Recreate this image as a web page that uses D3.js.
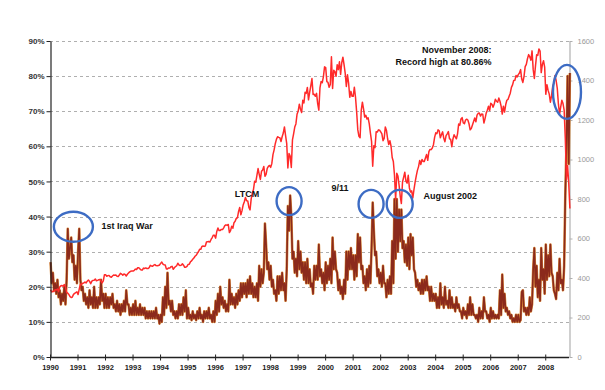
<!DOCTYPE html>
<html><head><meta charset="utf-8">
<script src="https://cdn.jsdelivr.net/npm/d3@7/dist/d3.min.js"></script>
<style>
body{margin:0;background:#fff}
svg{display:block}
text{font-family:Arial,"Liberation Sans",sans-serif}
</style>
</head><body>
<svg id="chart" width="605" height="390"></svg>
<script>
// ---- data ----
const yearLabels = [1990,1991,1992,1993,1994,1995,1996,1997,1998,1999,2000,2001,2002,2003,2004,2005,2006,2007,2008];
const leftTicks = [0,10,20,30,40,50,60,70,80,90];
const rightTicks = [0,200,400,600,800,1000,1200,1400,1600];

// S&P 500, two readings per month (first half, second half), Jan 1990 - Nov 2008
const spx = [
 340,329, 333,332, 341,339, 344,331, 354,361, 362,358, 367,356, 327,323, 316,306, 301,304, 317,322, 326,330, // 1990
 316,344, 369,367, 373,375, 380,375, 384,390, 383,371, 384,388, 389,395, 386,388, 391,392, 385,375, 385,417, // 1991
 416,409, 412,413, 406,404, 410,415, 414,415, 409,408, 415,424, 420,414, 420,418, 410,419, 425,431, 434,436, // 1992
 435,439, 445,443, 452,452, 446,440, 440,450, 448,451, 448,448, 452,464, 461,459, 465,468, 463,462, 463,466, // 1993
 474,481, 470,467, 466,446, 446,451, 450,457, 459,444, 452,458, 462,475, 466,463, 465,472, 465,454, 455,459, // 1994
 469,470, 482,487, 495,501, 510,515, 525,533, 545,545, 560,562, 560,562, 582,584, 585,582, 595,605, 617,616, // 1995
 602,636, 653,640, 641,646, 645,654, 665,669, 667,671, 630,640, 662,652, 680,687, 702,705, 737,757, 720,741, // 1996
 770,786, 808,791, 790,757, 745,801, 830,848, 890,885, 920,954, 925,899, 940,947, 965,915, 925,955, 965,970, // 1997
 960,980, 1025,1049, 1080,1102, 1115,1112, 1110,1091, 1115,1134, 1165,1121, 1080,957, 1030,1017, 960,1099, 1130,1164, 1180,1229, // 1998
 1245,1280, 1255,1238, 1300,1286, 1340,1335, 1365,1302, 1340,1373, 1410,1329, 1330,1320, 1335,1283, 1250,1363, 1395,1389, 1420,1469, // 1999
 1465,1394, 1390,1366, 1380,1520, 1360,1452, 1445,1421, 1480,1455, 1495,1431, 1490,1518, 1480,1437, 1370,1429, 1385,1315, 1345,1320, // 2000
 1320,1366, 1315,1240, 1150,1117, 1110,1249, 1290,1256, 1215,1224, 1205,1211, 1180,1134, 1092,966, 1070,1060, 1140,1139, 1150,1148, // 2001
 1140,1130, 1095,1107, 1165,1147, 1105,1076, 1095,1067, 1010,990, 920,797, 930,916, 870,815, 777,886, 910,936, 890,880, // 2002
 920,856, 835,841, 805,848, 885,917, 945,964, 995,975, 1000,990, 990,1008, 1025,996, 1040,1051, 1050,1058, 1075,1112, // 2003
 1135,1131, 1150,1145, 1110,1126, 1140,1107, 1090,1121, 1130,1141, 1105,1102, 1065,1104, 1125,1115, 1105,1130, 1180,1174, 1205,1212, // 2004
 1185,1181, 1200,1204, 1200,1181, 1150,1157, 1175,1192, 1210,1191, 1225,1234, 1235,1220, 1230,1229, 1185,1207, 1235,1249, 1270,1248, // 2005
 1285,1280, 1265,1281, 1305,1295, 1290,1311, 1295,1270, 1230,1270, 1240,1277, 1300,1304, 1320,1336, 1365,1378, 1400,1401, 1425,1418, // 2006
 1430,1438, 1455,1407, 1390,1421, 1470,1482, 1510,1531, 1520,1503, 1550,1455, 1410,1474, 1530,1527, 1560,1549, 1440,1481, 1500,1468, // 2007
 1330,1379, 1350,1331, 1290,1323, 1370,1386, 1425,1400, 1360,1280, 1230,1267, 1300,1283, 1250,1106, 899,969, 880,752 // 2008
];

// VIX (%), two readings per month, Jan 1990 - Nov 2008
const vix = [
 27,21, 24,19, 21,18, 22,17, 19,15, 18,16, 20,15, 22,36.5, 28,31, 34,27, 29,22, 26,21, // 1990
 30,36.5, 22,19, 20,16, 18,15, 17,14, 19,15, 17,14, 20,14, 17,14, 17,15, 22,16, 18,14, // 1991
 18,14, 17,14, 17,15, 18,14, 15,13, 16,13, 15,12, 15,13, 16,13, 19,15, 15,12, 14,12, // 1992
 15,12, 16,12, 14,12, 15,12, 14,12, 14,11, 13,11, 13,11, 13,11, 13,11, 14,11, 12,9.5, // 1993
 12,10, 17,12, 20,14, 24,15, 16,13, 16,12, 13,11, 13,11, 15,12, 15,12, 17,13, 19,11, // 1994
 14,11, 12,10.5, 13,11, 12,10.5, 13,11, 14,11, 12,10, 13,11, 13,11, 14,11, 12,10, 13,10, // 1995
 16,12, 18,13, 20,15, 17,14, 16,13, 15,13, 22,15, 18,15, 17,14, 18,15, 19,16, 21,17, // 1996
 21,18, 21,17, 22,18, 23,18, 21,17, 20,17, 21,16, 26,20, 25,21, 24,38, 32,25, 27,22, // 1997
 26,20, 22,18, 19,16, 23,18, 23,19, 24,19, 21,16, 25,43, 36,46, 40,28, 30,24, 28,23, // 1998
 33,25, 30,24, 27,22, 27,21, 28,21, 25,20, 21,18, 26,22, 26,22, 32,23, 25,21, 24,19, // 1999
 27,21, 26,22, 28,21, 34,25, 30,25, 24,19, 22,18, 20,16.5, 22,18, 30,22, 30,25, 31,25, // 2000
 29,22, 29,23, 35,27, 34,25, 26,21, 23,19, 25,20, 26,21, 31,44, 36,29, 30,23, 25,21, // 2001
 24,20, 26,21, 21,17, 22,18, 23,18, 33,21, 45,28, 45,30, 42,33, 42,31, 33,27, 32,26, // 2002
 34,25, 35,29, 34,25, 24,20, 22,19, 21,18, 22,18, 22,19, 23,19, 20,16, 20,16, 18,16, // 2003
 18,14, 17,14, 21,15, 17,14, 20,15, 16,14, 19,14, 17,14, 15,13, 17,14, 15,13, 13,11, // 2004
 14,12, 13,11, 15,12, 17,12, 15,12, 12,11, 12,10, 14,11, 13,11, 17,13, 13,11, 12,10, // 2005
 14,11, 13,11, 12,11, 12,11, 19,12, 23.5,14, 18,13, 14,12, 13,11, 12,10, 11,10, 12,10, // 2006
 12,10, 10.5,18.5, 19,13, 14,12, 14,12, 17,13, 15,25, 31,20, 26,17, 22,16, 31,22, 25,18, // 2007
 32,22, 29,23, 32,24, 23,19, 18,16.5, 24,19, 28,21, 22,19, 26,46, 60,80, 55,80.86 // 2008
];

// annotation texts and the events they mark (date, VIX level)
const eventLabels = ["1st Iraq War", "LTCM", "9/11", "August 2002"];
const eventDates  = [1990.85, 1998.69, 2001.67, 2002.71, 2008.79];
const eventLevels = [37.1, 44.4, 43.6, 43.6, 75.5];
const recordNote  = ["November 2008:", "Record high at 80.86%"];

// ---- drawing ----
const svg = d3.select("#chart");
const x  = d3.scaleLinear().domain([1990, 2008.9]).range([50, 570]);
const yL = d3.scaleLinear().domain([0, 90]).range([357, 41]);
const yR = d3.scaleLinear().domain([0, 1600]).range([357, 41]);
const tOf = i => 1990 + (i + 0.5) / 24;

// gridlines
svg.append("g").selectAll("line").data(leftTicks.filter(d => d > 0)).join("line")
  .attr("x1", 50).attr("x2", 569).attr("y1", d => Math.round(yL(d)) + 0.5).attr("y2", d => Math.round(yL(d)) + 0.5)
  .attr("stroke", "#9a9a9a").attr("stroke-width", 0.8).attr("stroke-dasharray", "3,3");

// right axis
const gR = svg.append("g").attr("transform", "translate(569.5,0)")
  .call(d3.axisRight(yR).tickValues(rightTicks).tickFormat(d3.format("d")).tickSize(3).tickSizeOuter(0).tickPadding(5));
gR.select(".domain").attr("stroke", "#b0b0b0").attr("stroke-width", 1.2);
gR.selectAll(".tick line").attr("stroke", "#b0b0b0");
gR.selectAll(".tick text").attr("fill", "#999").attr("font-size", "7.5px")
  .attr("font-family", "Arial, 'Liberation Sans', sans-serif");

// VIX line (orange halo + brown core)
const vixLine = d3.line().x((d, i) => x(tOf(i))).y(d => yL(d));
svg.append("path").datum(vix).attr("d", vixLine).attr("fill", "none")
  .attr("stroke", "#d98a3a").attr("stroke-width", 2.6).attr("stroke-linejoin", "round");
svg.append("path").datum(vix).attr("d", vixLine).attr("fill", "none")
  .attr("stroke", "#8b2a1c").attr("stroke-width", 1.6).attr("stroke-linejoin", "round");

// S&P line
const spxLine = d3.line().x((d, i) => x(tOf(i))).y(d => yR(d));
svg.append("path").datum(spx).attr("d", spxLine).attr("fill", "none")
  .attr("stroke", "#ff2a2a").attr("stroke-width", 1.5).attr("stroke-linejoin", "round");

// left axis
const gL = svg.append("g").attr("transform", "translate(50.5,0)")
  .call(d3.axisLeft(yL).tickValues(leftTicks).tickFormat(d => d + "%").tickSize(4).tickSizeOuter(0).tickPadding(2));
gL.select(".domain").attr("stroke", "#222").attr("stroke-width", 1.2);
gL.selectAll(".tick line").attr("stroke", "#222");
gL.selectAll(".tick text").attr("fill", "#333").attr("font-size", "8px").attr("font-weight", "bold")
  .attr("font-family", "Arial, 'Liberation Sans', sans-serif");

// bottom axis
const gB = svg.append("g").attr("transform", "translate(0,357.5)")
  .call(d3.axisBottom(x).tickValues(yearLabels).tickFormat(d3.format("d")).tickSize(3).tickSizeOuter(0).tickPadding(4));
gB.select(".domain").attr("stroke", "#222").attr("stroke-width", 1.3).attr("d", "M50,0H569");
gB.selectAll(".tick line").attr("stroke", "#222").attr("y1", -3);
gB.selectAll(".tick text").attr("fill", "#222").attr("font-size", "7.5px").attr("font-weight", "bold")
  .attr("font-family", "Arial, 'Liberation Sans', sans-serif");

// event ellipses
const radii = [[19.5, 15], [12.5, 14], [12.5, 14], [13, 14], [14, 27]];
svg.append("g").selectAll("ellipse").data(eventDates).join("ellipse")
  .attr("cx", d => x(d)).attr("cy", (d, i) => yL(eventLevels[i]))
  .attr("rx", (d, i) => radii[i][0]).attr("ry", (d, i) => radii[i][1])
  .attr("fill", "none").attr("stroke", "#3d6cc4").attr("stroke-width", 2.4);

// event labels
const labelPos = [[101.5, 226, "start"], [247, 193.5, "middle"], [340, 187.5, "middle"], [423.5, 196, "start"]];
svg.append("g").selectAll("text").data(eventLabels).join("text")
  .attr("x", (d, i) => labelPos[i][0]).attr("y", (d, i) => labelPos[i][1])
  .attr("text-anchor", (d, i) => labelPos[i][2]).attr("dominant-baseline", "central")
  .attr("font-size", "9px").attr("font-weight", "bold").attr("fill", "#111").text(d => d);

svg.append("g").selectAll("text").data(recordNote).join("text")
  .attr("x", 491.5).attr("y", (d, i) => 49.5 + i * 12.3)
  .attr("text-anchor", "end").attr("dominant-baseline", "central")
  .attr("font-size", "9px").attr("font-weight", "bold").attr("fill", "#111").text(d => d);
</script>
</body></html>
